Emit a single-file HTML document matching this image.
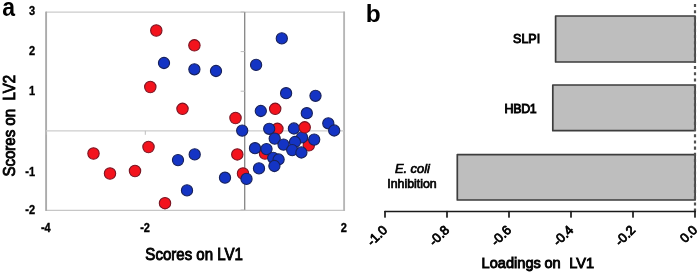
<!DOCTYPE html>
<html><head><meta charset="utf-8">
<style>
html,body{margin:0;padding:0;background:#fff;}
svg{display:block;filter:blur(0.4px);}
text{font-family:"Liberation Sans",sans-serif;fill:#000;white-space:pre;}
.tk{font-size:12.2px;font-weight:bold;stroke:#000;stroke-width:0.35px;}
.ax{font-size:16px;stroke:#000;stroke-width:0.9px;}
.ax2{font-size:14.6px;stroke:#000;stroke-width:0.9px;}
.rl{font-size:13px;stroke:#000;stroke-width:0.8px;}
.lb{font-size:12.5px;stroke:#000;stroke-width:0.7px;}
.pn{font-size:25px;font-weight:bold;}
</style></head>
<body>
<svg width="700" height="274" viewBox="0 0 700 274">
<rect x="0" y="0" width="700" height="274" fill="#ffffff"/>
<!-- panel a -->
<text transform="translate(2.2,15.7) scale(0.92,1)" class="pn">a</text>
<line x1="46" y1="12.2" x2="344.8" y2="12.2" stroke="#cbcbcb" stroke-width="1.3"/>
<line x1="46" y1="210.3" x2="344.8" y2="210.3" stroke="#c6c6c6" stroke-width="1.3"/>
<line x1="344.1" y1="11.6" x2="344.1" y2="210.9" stroke="#b6b6b6" stroke-width="1.9"/>
<line x1="46.1" y1="11.6" x2="46.1" y2="210.9" stroke="#ababab" stroke-width="1.9"/>
<line x1="46" y1="130.8" x2="344" y2="130.8" stroke="#cdcdcd" stroke-width="1.3"/>
<line x1="244.7" y1="12" x2="244.7" y2="210" stroke="#858585" stroke-width="1.3"/>
<line x1="240.66666666666666" y1="12.0" x2="244.66666666666666" y2="12.0" stroke="#bdbdbd" stroke-width="1"/>
<line x1="240.66666666666666" y1="51.6" x2="244.66666666666666" y2="51.6" stroke="#bdbdbd" stroke-width="1"/>
<line x1="240.66666666666666" y1="91.2" x2="244.66666666666666" y2="91.2" stroke="#bdbdbd" stroke-width="1"/>
<line x1="240.66666666666666" y1="170.4" x2="244.66666666666666" y2="170.4" stroke="#bdbdbd" stroke-width="1"/>
<line x1="240.66666666666666" y1="210.0" x2="244.66666666666666" y2="210.0" stroke="#bdbdbd" stroke-width="1"/>
<line x1="46.0" y1="130.8" x2="46.0" y2="134.8" stroke="#bdbdbd" stroke-width="1"/>
<line x1="145.3" y1="130.8" x2="145.3" y2="134.8" stroke="#bdbdbd" stroke-width="1"/>
<line x1="344.0" y1="130.8" x2="344.0" y2="134.8" stroke="#bdbdbd" stroke-width="1"/>

<text transform="translate(35.0,14.6) scale(0.9,1)" text-anchor="end" class="tk">3</text>
<text transform="translate(35.0,54.7) scale(0.9,1)" text-anchor="end" class="tk">2</text>
<text transform="translate(35.0,94.6) scale(0.9,1)" text-anchor="end" class="tk">1</text>
<text transform="translate(35.0,175.5) scale(0.9,1)" text-anchor="end" class="tk">-1</text>
<text transform="translate(35.0,214.0) scale(0.9,1)" text-anchor="end" class="tk">-2</text>
<text transform="translate(45.8,231.6) scale(0.9,1)" text-anchor="middle" class="tk">-4</text>
<text transform="translate(145.1,231.6) scale(0.9,1)" text-anchor="middle" class="tk">-2</text>
<text transform="translate(343.8,231.6) scale(0.9,1)" text-anchor="middle" class="tk">2</text>

<circle cx="156.3" cy="30.5" r="5.7" fill="#f3131d" stroke="#7b1422" stroke-width="1.1"/>
<circle cx="194.4" cy="45.3" r="5.7" fill="#f3131d" stroke="#7b1422" stroke-width="1.1"/>
<circle cx="150.3" cy="87" r="5.7" fill="#f3131d" stroke="#7b1422" stroke-width="1.1"/>
<circle cx="182.5" cy="108.8" r="5.7" fill="#f3131d" stroke="#7b1422" stroke-width="1.1"/>
<circle cx="275.2" cy="108.8" r="5.7" fill="#f3131d" stroke="#7b1422" stroke-width="1.1"/>
<circle cx="235.5" cy="118" r="5.7" fill="#f3131d" stroke="#7b1422" stroke-width="1.1"/>
<circle cx="277.4" cy="128.8" r="5.7" fill="#f3131d" stroke="#7b1422" stroke-width="1.1"/>
<circle cx="308.8" cy="145.3" r="5.7" fill="#f3131d" stroke="#7b1422" stroke-width="1.1"/>
<circle cx="265" cy="153.5" r="5.7" fill="#f3131d" stroke="#7b1422" stroke-width="1.1"/>
<circle cx="237.3" cy="154.4" r="5.7" fill="#f3131d" stroke="#7b1422" stroke-width="1.1"/>
<circle cx="243" cy="173.5" r="5.7" fill="#f3131d" stroke="#7b1422" stroke-width="1.1"/>
<circle cx="93.5" cy="153.5" r="5.7" fill="#f3131d" stroke="#7b1422" stroke-width="1.1"/>
<circle cx="148.5" cy="147" r="5.7" fill="#f3131d" stroke="#7b1422" stroke-width="1.1"/>
<circle cx="110" cy="173.5" r="5.7" fill="#f3131d" stroke="#7b1422" stroke-width="1.1"/>
<circle cx="135" cy="171" r="5.7" fill="#f3131d" stroke="#7b1422" stroke-width="1.1"/>
<circle cx="165" cy="203.2" r="5.7" fill="#f3131d" stroke="#7b1422" stroke-width="1.1"/>
<circle cx="164" cy="63" r="5.6" fill="#1434c4" stroke="#18225c" stroke-width="1.1"/>
<circle cx="194.4" cy="69.3" r="5.6" fill="#1434c4" stroke="#18225c" stroke-width="1.1"/>
<circle cx="216" cy="71" r="5.6" fill="#1434c4" stroke="#18225c" stroke-width="1.1"/>
<circle cx="281.8" cy="38.4" r="5.6" fill="#1434c4" stroke="#18225c" stroke-width="1.1"/>
<circle cx="256.1" cy="64.9" r="5.6" fill="#1434c4" stroke="#18225c" stroke-width="1.1"/>
<circle cx="286.1" cy="93.2" r="5.6" fill="#1434c4" stroke="#18225c" stroke-width="1.1"/>
<circle cx="315.5" cy="95.8" r="5.6" fill="#1434c4" stroke="#18225c" stroke-width="1.1"/>
<circle cx="260.8" cy="111" r="5.6" fill="#1434c4" stroke="#18225c" stroke-width="1.1"/>
<circle cx="306.8" cy="113.2" r="5.6" fill="#1434c4" stroke="#18225c" stroke-width="1.1"/>
<circle cx="328.3" cy="123.3" r="5.6" fill="#1434c4" stroke="#18225c" stroke-width="1.1"/>
<circle cx="334.2" cy="130.5" r="5.6" fill="#1434c4" stroke="#18225c" stroke-width="1.1"/>
<circle cx="242.2" cy="130.6" r="5.6" fill="#1434c4" stroke="#18225c" stroke-width="1.1"/>
<circle cx="269.2" cy="128.8" r="5.6" fill="#1434c4" stroke="#18225c" stroke-width="1.1"/>
<circle cx="293.9" cy="128.5" r="5.6" fill="#1434c4" stroke="#18225c" stroke-width="1.1"/>
<circle cx="274.7" cy="138.6" r="5.6" fill="#1434c4" stroke="#18225c" stroke-width="1.1"/>
<circle cx="302" cy="137.4" r="5.6" fill="#1434c4" stroke="#18225c" stroke-width="1.1"/>
<circle cx="314.2" cy="139.6" r="5.6" fill="#1434c4" stroke="#18225c" stroke-width="1.1"/>
<circle cx="295" cy="142" r="5.6" fill="#1434c4" stroke="#18225c" stroke-width="1.1"/>
<circle cx="283.5" cy="144.6" r="5.6" fill="#1434c4" stroke="#18225c" stroke-width="1.1"/>
<circle cx="255" cy="148.2" r="5.6" fill="#1434c4" stroke="#18225c" stroke-width="1.1"/>
<circle cx="266.5" cy="149.1" r="5.6" fill="#1434c4" stroke="#18225c" stroke-width="1.1"/>
<circle cx="292.2" cy="150.1" r="5.6" fill="#1434c4" stroke="#18225c" stroke-width="1.1"/>
<circle cx="301.4" cy="152.5" r="5.6" fill="#1434c4" stroke="#18225c" stroke-width="1.1"/>
<circle cx="273.2" cy="157.8" r="5.6" fill="#1434c4" stroke="#18225c" stroke-width="1.1"/>
<circle cx="278.6" cy="159.5" r="5.6" fill="#1434c4" stroke="#18225c" stroke-width="1.1"/>
<circle cx="274.4" cy="166" r="5.6" fill="#1434c4" stroke="#18225c" stroke-width="1.1"/>
<circle cx="259" cy="168.4" r="5.6" fill="#1434c4" stroke="#18225c" stroke-width="1.1"/>
<circle cx="246.5" cy="178.9" r="5.6" fill="#1434c4" stroke="#18225c" stroke-width="1.1"/>
<circle cx="225" cy="177.7" r="5.6" fill="#1434c4" stroke="#18225c" stroke-width="1.1"/>
<circle cx="178" cy="160.1" r="5.6" fill="#1434c4" stroke="#18225c" stroke-width="1.1"/>
<circle cx="194.7" cy="154.4" r="5.6" fill="#1434c4" stroke="#18225c" stroke-width="1.1"/>
<circle cx="187" cy="190.4" r="5.6" fill="#1434c4" stroke="#18225c" stroke-width="1.1"/>
<circle cx="304.7" cy="127.3" r="5.7" fill="#f3131d" stroke="#7b1422" stroke-width="1.1"/>

<text transform="translate(14.8,125.8) rotate(-90) scale(0.94,1)" text-anchor="middle" class="ax" xml:space="preserve">Scores on  LV2</text>
<text transform="translate(194.1,260.3) scale(0.94,1)" text-anchor="middle" class="ax">Scores on LV1</text>
<!-- panel b -->
<text x="365.7" y="21.8" class="pn" style="font-size:24.5px">b</text>
<rect x="555.6" y="16.0" width="139.5" height="46.0" fill="#bebebe" stroke="#3d3d3d" stroke-width="1.7" stroke-linejoin="round"/>
<rect x="552.8" y="85.0" width="142.3" height="45.7" fill="#bebebe" stroke="#3d3d3d" stroke-width="1.7" stroke-linejoin="round"/>
<rect x="457.3" y="154.6" width="237.8" height="45.4" fill="#bebebe" stroke="#3d3d3d" stroke-width="1.7" stroke-linejoin="round"/>

<line x1="695" y1="4" x2="695" y2="211.5" stroke="#505050" stroke-width="2.2" stroke-dasharray="3.1 3.1"/>
<line x1="385" y1="211.5" x2="695" y2="211.5" stroke="#1a1a1a" stroke-width="1.7" stroke-linecap="round"/>
<line x1="385.0" y1="211.5" x2="385.0" y2="217.0" stroke="#1a1a1a" stroke-width="1.7" stroke-linecap="round"/>
<line x1="447.0" y1="211.5" x2="447.0" y2="217.0" stroke="#1a1a1a" stroke-width="1.7" stroke-linecap="round"/>
<line x1="509.0" y1="211.5" x2="509.0" y2="217.0" stroke="#1a1a1a" stroke-width="1.7" stroke-linecap="round"/>
<line x1="571.0" y1="211.5" x2="571.0" y2="217.0" stroke="#1a1a1a" stroke-width="1.7" stroke-linecap="round"/>
<line x1="633.0" y1="211.5" x2="633.0" y2="217.0" stroke="#1a1a1a" stroke-width="1.7" stroke-linecap="round"/>
<line x1="695.0" y1="211.5" x2="695.0" y2="217.0" stroke="#1a1a1a" stroke-width="1.7" stroke-linecap="round"/>

<text transform="translate(388.1,230.8) rotate(-45)" text-anchor="end" class="rl">-1.0</text>
<text transform="translate(450.1,230.8) rotate(-45)" text-anchor="end" class="rl">-0.8</text>
<text transform="translate(512.1,230.8) rotate(-45)" text-anchor="end" class="rl">-0.6</text>
<text transform="translate(574.1,230.8) rotate(-45)" text-anchor="end" class="rl">-0.4</text>
<text transform="translate(636.1,230.8) rotate(-45)" text-anchor="end" class="rl">-0.2</text>
<text transform="translate(698.1,230.8) rotate(-45)" text-anchor="end" class="rl">0.0</text>

<text transform="translate(526.6,43.3) scale(1.0,1)" text-anchor="middle" class="lb" style="stroke-width:0.9px">SLPI</text>
<text transform="translate(520.5,112.7) scale(0.99,1)" text-anchor="middle" class="lb" letter-spacing="-0.3" style="stroke-width:0.9px">HBD1</text>
<text transform="translate(412.4,173.4) scale(1.03,1)" text-anchor="middle" class="lb" font-style="italic" xml:space="preserve">E. coli</text>
<text transform="translate(412,187.7) scale(0.99,1)" text-anchor="middle" class="lb">Inhibition</text>
<text x="481.6" y="268" class="ax2">Loadings</text><text x="544.4" y="268" class="ax2">on</text><text x="569.2" y="268" class="ax2">LV1</text>
</svg>
</body></html>
